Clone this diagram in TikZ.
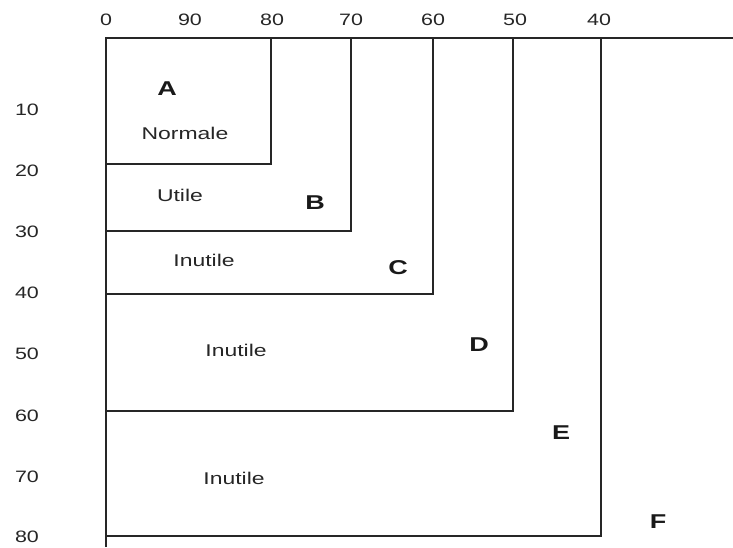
\documentclass[tikz,border=0pt]{standalone}
\usepackage{fontspec}
\setmainfont{Liberation Sans}
\begin{document}
\begin{tikzpicture}[x=1pt,y=-1pt,
  frame/.style={line width=1.7pt, draw=black!85},
  num/.style={font=\fontsize{16.5}{16.5}\selectfont, text=black!85, xscale=1.3, inner sep=0pt},
  lab/.style={font=\fontsize{17}{17}\selectfont, text=black!85, xscale=1.35, inner sep=0pt},
  zone/.style={font=\bfseries\fontsize{20}{20}\selectfont, text=black!90, xscale=1.35, inner sep=0pt}]
\useasboundingbox (0,0) rectangle (733,547);
% frames
\draw[frame] (106,547) -- (106,38) -- (733,38);
\draw[frame] (106,164) -| (271,38);
\draw[frame] (106,231) -| (351,38);
\draw[frame] (106,294) -| (433,38);
\draw[frame] (106,411) -| (513,38);
\draw[frame] (106,536) -| (601,38);
% top scale
\node[num] (t0) at (106,20) {0};
\node[num] (t90) at (190,20) {90};
\node[num] (t80) at (272,20) {80};
\node[num] (t70) at (351,20) {70};
\node[num] (t60) at (433,20) {60};
\node[num] (t50) at (515,20) {50};
\node[num] (t40) at (599,20) {40};
% left scale
\node[num] (l10) at (27,110) {10};
\node[num] (l20) at (27,171) {20};
\node[num] (l30) at (27,232) {30};
\node[num] (l40) at (27,293) {40};
\node[num] (l50) at (27,354) {50};
\node[num] (l60) at (27,416) {60};
\node[num] (l70) at (27,477) {70};
\node[num] (l80) at (27,537) {80};
% zone letters
\node[zone] (zA) at (167,89) {A};
\node[zone] (zB) at (315,203) {B};
\node[zone] (zC) at (398,268) {C};
\node[zone] (zD) at (479,345) {D};
\node[zone] (zE) at (561,433) {E};
\node[zone] (zF) at (658,522) {F};
% zone texts
\node[lab] (n1) at (185,133) {Normale};
\node[lab] (n2) at (180,195) {Utile};
\node[lab] (n3) at (204,260) {Inutile};
\node[lab] (n4) at (236,350) {Inutile};
\node[lab] (n5) at (234,478) {Inutile};
\end{tikzpicture}
\end{document}
